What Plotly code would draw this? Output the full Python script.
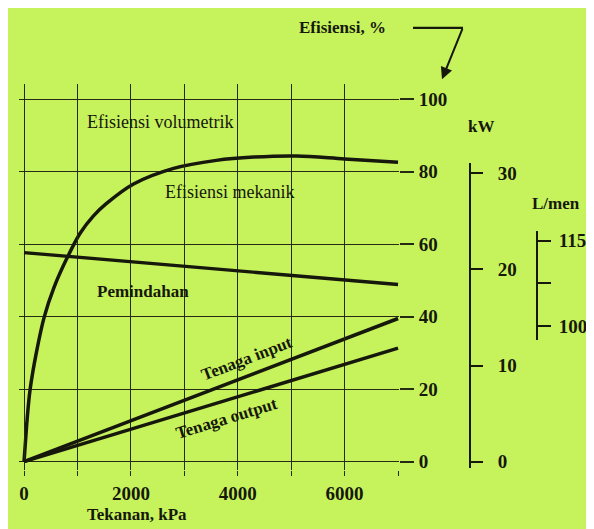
import plotly.graph_objects as go

# the page body adds an 8 px margin, so the figure is a little smaller than the window
W, H = 586, 521
OFF = 8

# data
tekanan_ticks = [0, 1000, 2000, 3000, 4000, 5000, 6000, 7000]
tekanan_text = ["0", "", "2000", "", "4000", "", "6000", ""]

# efisiensi mekanik, %
mek_x = [0, 25, 60, 115, 230, 380, 560, 800, 1050, 1300, 1550, 2050, 2800, 3600, 4300, 5100, 6000, 7000]
mek_y = [0, 5, 12, 20, 30, 40, 48, 56, 63, 67.8, 71.3, 76.6, 80.9, 83.1, 84, 84.3, 83.5, 82.6]

# pemindahan, L/men
pem_x = [0, 7000]
pem_y = [112.9, 107.3]

# tenaga, kW
tenaga_x = [0, 7000]
input_kw = [0, 14.9]
output_kw = [0, 11.8]

eff_ticks = [0, 20, 40, 60, 80, 100]
kw_ticks = [0, 10, 20, 30]
lmen_ticks = [100, 107.5, 115]
lmen_text = ["100", "", "115"]

BG = "#c6f35c"
INK = "#16180c"
GRID = "#262a14"
FONT = "Liberation Serif"


def px(x):
    # screen pixel -> paper fraction
    return (x - OFF) / W


def py(y):
    return 1 - (y - OFF) / H


fig = go.Figure()

fig.add_trace(go.Scatter(
    x=mek_x, y=mek_y, mode="lines", line=dict(color=INK, width=3.5, shape="spline", smoothing=1.0),
    xaxis="x", yaxis="y", hoverinfo="skip",
))
fig.add_trace(go.Scatter(
    x=pem_x, y=pem_y, mode="lines", line=dict(color=INK, width=3.4),
    xaxis="x", yaxis="y3", hoverinfo="skip",
))
fig.add_trace(go.Scatter(
    x=tenaga_x, y=input_kw, mode="lines", line=dict(color=INK, width=3.6),
    xaxis="x", yaxis="y2", hoverinfo="skip",
))
fig.add_trace(go.Scatter(
    x=tenaga_x, y=output_kw, mode="lines", line=dict(color=INK, width=3.4),
    xaxis="x", yaxis="y2", hoverinfo="skip",
))

tickfont = dict(size=19, family=FONT, color=INK, weight="bold")

fig.update_layout(
    width=W, height=H,
    margin=dict(l=0, r=0, t=0, b=0),
    paper_bgcolor=BG, plot_bgcolor="rgba(0,0,0,0)",
    showlegend=False,
    font=dict(family=FONT, color=INK, size=18),
    xaxis=dict(
        domain=[px(19), px(399)], range=[-94, 7018], anchor="y",
        tickvals=tekanan_ticks, ticktext=tekanan_text,
        showgrid=True, gridcolor=GRID, gridwidth=1.4,
        zeroline=False, showline=False,
        ticks="outside", ticklen=5, tickcolor=GRID, tickwidth=1.4,
        ticklabelstandoff=2,
        tickfont=tickfont,
    ),
    yaxis=dict(
        domain=[py(474), py(85)], range=[-2.19, 104.1], anchor="x", side="right",
        tickvals=eff_ticks,
        showgrid=True, gridcolor=GRID, gridwidth=1.4,
        zeroline=False, showline=False,
        ticks="outside", ticklen=14, tickcolor=GRID, tickwidth=1.5,
        ticklabelstandoff=1,
        tickfont=tickfont,
    ),
    yaxis2=dict(
        domain=[py(472), py(165)], range=[-0.62, 31.03], anchor="free", position=px(470), side="right",
        tickvals=kw_ticks,
        showgrid=False, zeroline=False,
        showline=True, linecolor=INK, linewidth=2,
        ticks="outside", ticklen=12, tickcolor=INK, tickwidth=2,
        ticklabelstandoff=11,
        tickfont=tickfont,
    ),
    yaxis3=dict(
        domain=[py(343), py(233)], range=[97.56, 116.74], anchor="free", position=px(537), side="right",
        tickvals=lmen_ticks, ticktext=lmen_text,
        showgrid=False, zeroline=False,
        showline=True, linecolor=INK, linewidth=2,
        ticks="outside", ticklen=13, tickcolor=INK, tickwidth=2,
        ticklabelstandoff=4,
        tickfont=tickfont,
    ),
)

# text, x, y (screen px), angle, bold
labels = [
    ("Efisiensi volumetrik", 160, 123, 0, False),
    ("Efisiensi mekanik", 230, 194, 0, False),
    ("Pemindahan", 143, 294, 0, True),
    ("Tenaga input", 247, 362, -21, True),
    ("Tenaga output", 226, 422, -17, True),
    ("Efisiensi, %", 342, 28, 0, True),
    ("kW", 481, 128, 0, True),
    ("L/men", 556, 205, 0, True),
    ("Tekanan, kPa", 137, 519, 0, True),
]
for text, x, y, ang, bold in labels:
    fig.add_annotation(
        text=text, x=px(x), y=py(y), xref="paper", yref="paper",
        xanchor="center", yanchor="middle", showarrow=False, textangle=ang,
        font=dict(size=18 if not bold else 17, family=FONT, color=INK,
                  weight="bold" if bold else "normal"),
    )

# arrow pointing to the efficiency scale
fig.add_shape(
    type="line", xref="paper", yref="paper",
    x0=px(413), y0=py(28), x1=px(463), y1=py(28),
    line=dict(color=INK, width=2.2),
)
fig.add_annotation(
    x=px(442), y=py(80), xref="paper", yref="paper", text="",
    showarrow=True, ax=21, ay=-52, arrowhead=2, arrowsize=1.2, arrowwidth=2, arrowcolor=INK,
)

fig.write_html("out.html")
